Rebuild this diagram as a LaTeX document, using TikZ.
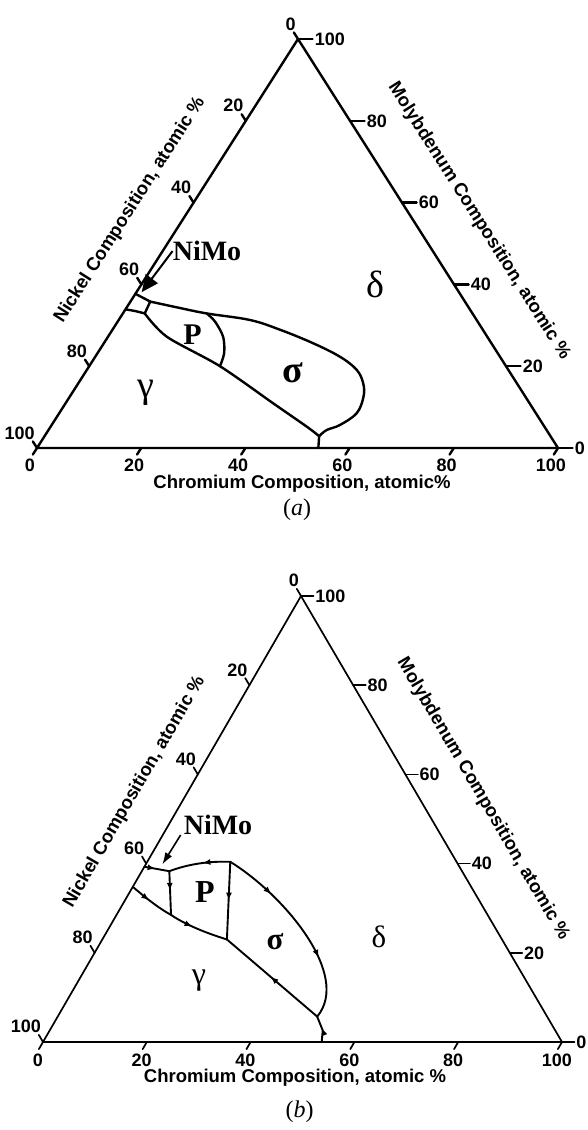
\documentclass[tikz,border=0pt]{standalone}
\usepackage{fontspec}
\setmainfont{Liberation Serif}
\setsansfont{Liberation Sans}
\usetikzlibrary{arrows.meta,decorations.markings}

\begin{document}
\begin{tikzpicture}[x=1pt,y=-1pt,
  num/.style={font=\sffamily\bfseries\fontsize{18}{18}\selectfont,inner sep=1pt},
  axt/.style={font=\sffamily\bfseries\fontsize{18.5}{18.5}\selectfont,inner sep=0pt},
  phs/.style={font=\fontsize{#1}{#1}\selectfont,inner sep=0pt},
  bnm/.style={font=\bfseries\fontsize{#1}{#1}\selectfont,inner sep=0pt},
  figlab/.style={font=\fontsize{24}{24}\selectfont,inner sep=0pt},
  bnd/.style={line width=#1,line join=round,line cap=round},
  fl/.style={postaction={decorate},decoration={markings,
    mark=at position #1 with {\arrow{Latex[length=8pt,width=6pt]}}}},
  fltwo/.style 2 args={postaction={decorate},decoration={markings,
    mark=at position #1 with {\arrow{Latex[length=8pt,width=6pt]}},
    mark=at position #2 with {\arrow{Latex[length=8pt,width=6pt]}}}}]
  \useasboundingbox (0,0) rectangle (587,1130);

  % (a) -- ternary frame: x = Cr %, y = Mo %
  \begin{scope}[shift={(37,448)},x={(5.21pt,0pt)},y={(2.61pt,4.09pt)},bnd=2.4pt]
    \draw (0,0) -- (100,0) -- (0,100) -- cycle;
    \foreach \v in {0,20,...,100}{
      \draw (\v,0) -- ++(0,-1.6) node[num,below,xshift=-3pt,yshift=-2pt] (cA\v) {\v};
      \draw (100-\v,\v) -- ++(2.8,0) node[num,right] (mA\v) {\v};
      \draw (0,100-\v) -- ++(-1.6,1.6) node[num,anchor=south east,xshift=4pt] (nA\v) {\v};
    }
    % NiMo pocket
    \draw (0,37.7) -- (3.8,35.8) -- (4.2,32.9);
    \draw plot[smooth] coordinates {(0,33.9) (2,33.5) (4.2,32.9)};
    % sigma / delta
    \draw plot[smooth,tension=0.6] coordinates {(3.8,35.8) (10,34.3) (16.1,32.9) (25.2,31.3)
      (32.2,28.9) (40.2,25.6) (47,22.3) (51.8,19.1) (54.7,15.8) (56.4,12.5) (57.1,8.5)
      (55.3,5.6) (53.4,4.4) (52.7,2.9)};
    % gamma side
    \draw plot[smooth,tension=0.5] coordinates {(4.2,32.9) (11.3,27.2) (25.1,20) (39.9,10.9)
      (49.2,5.2) (52.7,2.9)};
    % P / sigma
    \draw plot[smooth] coordinates {(16.1,32.9) (18.7,30.9) (22.1,27.2) (24.3,23.2) (25.1,20)};
    \draw (52.7,2.9) -- (54,0);
    \coordinate (tipA) at (1,38.1);
  \end{scope}

  % (b)
  \begin{scope}[shift={(43,1042)},x={(5.19pt,0pt)},y={(2.58pt,4.46pt)},bnd=1.7pt]
    \draw (0,0) -- (100,0) -- (0,100) -- cycle;
    \foreach \v in {0,20,...,100}{
      \draw (\v,0) -- ++(0,-1.6) node[num,below,xshift=-1pt,yshift=-3pt] (cB\v) {\v};
      \draw (100-\v,\v) -- ++(2.4,0) node[num,right] (mB\v) {\v};
      \draw (0,100-\v) -- ++(-1.6,1.6) node[num,anchor=south east,xshift=4pt] (nB\v) {\v};
    }
    \begin{scope}[bnd=1.9pt]
      \draw[fl=0.45] (0,39.3) -- (5.3,38.3);
      \draw[fl=0.45] (5.3,38.3) -- (10.5,28.5);
      \draw[fl=0.45] (16,40.4) .. controls (11.5,40.6) and (8,39.8) .. (5.3,38.3);
      \draw[fl=0.5] (16,40.4) -- (24,23);
      \draw[fltwo={0.27}{0.68}] (16,40.4) .. controls (30,33) and (52,15) .. (50,5.7);
      \draw[fl=0.45] (0,34.8) .. controls (3,32.8) and (7,30.2) .. (10.5,28.5);
      \draw[fl=0.4] (10.5,28.5) .. controls (14,26.5) and (19,24.5) .. (24,23);
      \draw[fl=0.52] (50,5.7) -- (24,23);
      \draw[fl=0.55] (53.7,0) -- (52.6,2.6) -- (50,5.7);
    \end{scope}
    \coordinate (tipB) at (3.2,39.8);
  \end{scope}

  % labels (a)
  \node[axt,rotate=57.45] (niA) at (130,210) {Nickel Composition, atomic \%};
  \node[axt,rotate=-57.55] (moA) at (479,221) {Molybdenum Composition, atomic \%};
  \node[axt] (crA) at (302,484) {Chromium Composition, atomic\%};
  \node[figlab] (labA) at (297,510) {(\textit{a})};
  \node[bnm=28] (nimoA) at (207,251) {NiMo};
  \node[bnm=30] (pA) at (192.5,335) {P};
  \node[phs=38,font=\bfseries\fontsize{38}{38}\selectfont] (sigA) at (292.5,373) {σ};
  \node[phs=38] (delA) at (375.5,284) {δ};
  \node[phs=38] (gamA) at (145.8,392.5) {γ};
  \draw[line width=2pt,-{Triangle[length=17pt,width=15pt]}] (nimoA.west) -- (tipA);

  % labels (b)
  \node[axt,rotate=59.95] (niB) at (134.5,792) {Nickel Composition, atomic \%};
  \node[axt,rotate=-59.66] (moB) at (483,799) {Molybdenum Composition, atomic \%};
  \node[axt] (crB) at (295,1078) {Chromium Composition, atomic \%};
  \node[figlab] (labB) at (299.6,1112) {(\textit{b})};
  \node[bnm=28] (nimoB) at (218,825) {NiMo};
  \node[bnm=32] (pB) at (205,892.5) {P};
  \node[phs=31,font=\bfseries\fontsize{31}{31}\selectfont] (sigB) at (275,941.7) {σ};
  \node[phs=31] (delB) at (379,937) {δ};
  \node[phs=32] (gamB) at (199,980.8) {γ};
  \draw[line width=1.6pt,-{Latex[length=12pt,width=8pt]}] ([xshift=-3pt]nimoB.south west) -- (tipB);
\end{tikzpicture}
\end{document}
